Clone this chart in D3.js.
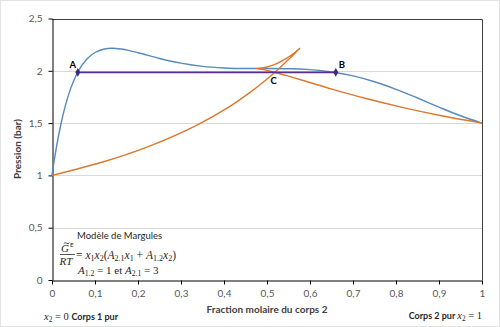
<!DOCTYPE html>
<html><head><meta charset="utf-8">
<script src="https://cdn.jsdelivr.net/npm/d3@7"></script>
<style>
html,body{margin:0;padding:0;background:#fff;}
svg{display:block;}
</style></head>
<body>
<script>
// ---- data ----
const x2Liquid = [0, 0.005, 0.01, 0.02, 0.03, 0.04, 0.05, 0.06, 0.08, 0.10, 0.12, 0.13, 0.14, 0.16, 0.18, 0.20, 0.25, 0.30, 0.35, 0.40, 0.45, 0.50, 0.55, 0.60, 0.65, 0.70, 0.75, 0.80, 0.85, 0.90, 0.95, 1];
const pressure = [1, 1.138, 1.263, 1.477, 1.650, 1.789, 1.900, 1.988, 2.108, 2.175, 2.206, 2.213, 2.215, 2.208, 2.193, 2.173, 2.118, 2.073, 2.042, 2.027, 2.022, 2.022, 2.020, 2.011, 1.989, 1.951, 1.895, 1.823, 1.740, 1.653, 1.570, 1.5];
const y2Vapour = [0, 0.126, 0.216, 0.335, 0.410, 0.459, 0.494, 0.519, 0.550, 0.567, 0.574, 0.576, 0.576, 0.575, 0.570, 0.564, 0.545, 0.525, 0.505, 0.490, 0.480, 0.476, 0.480, 0.493, 0.515, 0.548, 0.594, 0.653, 0.726, 0.812, 0.906, 1];
const threePhaseX = [0.06, 0.66];
const threePhaseP = [1.985, 1.985];
const pointLabels = ["A", "B", "C"];
const pointLabelX = [0.06, 0.66, 0.52];
const xTicks = [0, 0.1, 0.2, 0.3, 0.4, 0.5, 0.6, 0.7, 0.8, 0.9, 1];
const xTickLabels = ["0", "0,1", "0,2", "0,3", "0,4", "0,5", "0,6", "0,7", "0,8", "0,9", "1"];
const yTicks = [0, 0.5, 1, 1.5, 2, 2.5];
const yTickLabels = ["0", "0,5", "1", "1,5", "2", "2,5"];

const W = 500, H = 327;
const svg = d3.select("body").append("svg").attr("width", W).attr("height", H);
svg.append("rect").attr("x", 0.5).attr("y", 0.5).attr("width", W - 1).attr("height", H - 1)
  .attr("fill", "#fff").attr("stroke", "#e3e3e3");

const x = d3.scaleLinear().domain([0, 1]).range([52, 482]);
const y = d3.scaleLinear().domain([0, 2.5]).range([280, 18.5]);
const sansFont = "Lato, 'Open Sans', sans-serif";
const serif = "'Liberation Serif', 'DejaVu Serif', serif";

// gridlines
svg.append("g").selectAll("line").data(yTicks.filter(d => d > 0 && d < 2.5)).join("line")
  .attr("x1", x(0)).attr("x2", x(1)).attr("y1", d => Math.round(y(d)) + 0.5).attr("y2", d => Math.round(y(d)) + 0.5)
  .attr("stroke", "#d9d9d9").attr("stroke-width", 1);

// plot border (top/right)
svg.append("path")
  .attr("d", `M${x(0)},${Math.round(y(2.5)) + 0.5}H${x(1) + 0.5}V${y(0)}`)
  .attr("fill", "none").attr("stroke", "#404040").attr("stroke-width", 1);

// axes
const xAxis = svg.append("g").attr("transform", `translate(0,${Math.round(y(0)) + 0.5})`)
  .call(d3.axisBottom(x).tickValues(xTicks).tickSize(4).tickSizeOuter(0).tickPadding(5)
    .tickFormat((d, i) => xTickLabels[i]));
const yAxis = svg.append("g").attr("transform", `translate(${x(0) + 0.5},0)`)
  .call(d3.axisLeft(y).tickValues(yTicks).tickSize(4).tickSizeOuter(0).tickPadding(6)
    .tickFormat((d, i) => yTickLabels[i]));
[xAxis, yAxis].forEach(g => {
  g.select(".domain").attr("stroke", "#000");
  g.selectAll(".tick line").attr("stroke", "#000");
  g.selectAll(".tick text").attr("fill", "#595959").style("font-family", sansFont).style("font-size", "10px");
});

// curves
const blueLine = d3.line().x(d => x(d[0])).y(d => y(d[1])).curve(d3.curveMonotoneX);
svg.append("path").datum(x2Liquid.map((v, i) => [v, pressure[i]]))
  .attr("d", blueLine).attr("fill", "none").attr("stroke", "#5889bd").attr("stroke-width", 1.4);

const orangeLine = d3.line().x(d => x(d[0])).y(d => y(d[1])).curve(d3.curveCatmullRom.alpha(0.5));
svg.append("path").datum(y2Vapour.map((v, i) => [v, pressure[i]]))
  .attr("d", orangeLine).attr("fill", "none").attr("stroke", "#db782e").attr("stroke-width", 1.4);

// three-phase line
svg.append("path").datum(threePhaseX.map((v, i) => [v, threePhaseP[i]]))
  .attr("d", d3.line().x(d => x(d[0])).y(d => y(d[1])))
  .attr("fill", "none").attr("stroke", "#5a2d91").attr("stroke-width", 1.6);
svg.append("g").selectAll("path").data(threePhaseX).join("path")
  .attr("transform", (d, i) => `translate(${x(d)},${y(threePhaseP[i])})`)
  .attr("d", d3.symbol().type(d3.symbolDiamond).size(22))
  .attr("fill", "#3b2a7a");

// point labels
const labelOffsets = [[-5, -7], [6, -7], [-2, 9]];
svg.append("g").selectAll("text").data(pointLabels).join("text")
  .attr("x", (d, i) => x(pointLabelX[i]) + labelOffsets[i][0])
  .attr("y", (d, i) => y(threePhaseP[0]) + labelOffsets[i][1])
  .attr("text-anchor", "middle").attr("dominant-baseline", "middle")
  .style("font-family", sansFont).style("font-size", "9.5px").style("font-weight", "bold")
  .attr("fill", "#000").text(d => d);

// axis titles
svg.append("text").attr("x", 267).attr("y", 313).attr("text-anchor", "middle")
  .style("font-family", sansFont).style("font-size", "10px").style("font-weight", "bold")
  .attr("fill", "#404040").text("Fraction molaire du corps 2");
svg.append("text").attr("transform", "translate(21,149) rotate(-90)").attr("text-anchor", "middle")
  .style("font-family", sansFont).style("font-size", "10px").style("font-weight", "bold")
  .attr("fill", "#404040").text("Pression (bar)");

// rich text helper: segments [text, kind] kind: n (normal sans), i (italic serif), s (subscript), m (upright serif), b (bold sans)
function rich(xp, yp, segs, size, anchor, sansSize) {
  const t = svg.append("text").attr("x", xp).attr("y", yp).attr("fill", "#262626")
    .attr("text-anchor", anchor || "start").style("font-size", size + "px");
  let sub = false;
  segs.forEach(([txt, k]) => {
    const sp = t.append("tspan").text(txt);
    if (k === "i") sp.style("font-family", serif).style("font-style", "italic");
    else if (k === "m" || k === "s") sp.style("font-family", serif);
    else if (k === "b") sp.style("font-family", sansFont).style("font-weight", "bold").style("font-size", (sansSize || size) + "px");
    else sp.style("font-family", sansFont);
    if (k === "s") {
      sp.style("font-size", (size * 0.7) + "px");
      if (!sub) { sp.attr("dy", size * 0.22); sub = true; }
    } else if (sub) { sp.attr("dy", -size * 0.22); sub = false; }
  });
  return t;
}

// annotation
svg.append("text").attr("x", 77).attr("y", 239).style("font-family", sansFont).style("font-size", "9.5px")
  .attr("fill", "#262626").text("Modèle de Margules");
// fraction G~E / RT
rich(61, 251.5, [["G", "i"]], 11);
svg.append("path").attr("d", "M63.8,243.6 q1.3,-1.6 2.8,-0.4 q1.5,1.2 2.8,-0.4")
  .attr("fill", "none").attr("stroke", "#262626").attr("stroke-width", 0.8);
svg.append("text").attr("x", 70).attr("y", 246.5).style("font-family", sansFont).style("font-size", "6.5px")
  .attr("fill", "#262626").text("E");
svg.append("line").attr("x1", 60).attr("x2", 75).attr("y1", 254.5).attr("y2", 254.5)
  .attr("stroke", "#262626").attr("stroke-width", 0.8);
rich(59.5, 264.5, [["RT", "i"]], 11);
rich(76, 258.5, [["= ", "m"], ["x", "i"], ["1", "s"], ["x", "i"], ["2", "s"], ["(", "m"], ["A", "i"], ["2.1", "s"],
  ["x", "i"], ["1", "s"], [" + ", "m"], ["A", "i"], ["1.2", "s"], ["x", "i"], ["2", "s"], [")", "m"]], 11.5);
rich(78, 273.5, [["A", "i"], ["1.2", "s"], [" = 1 et ", "m"], ["A", "i"], ["2.1", "s"], [" = 3", "m"]], 11);

// bottom labels
rich(44, 319.5, [["x", "i"], ["2", "s"], [" = 0 ", "m"], ["Corps 1 pur", "b"]], 10.5, "start", 9);
rich(482, 319, [["Corps 2 pur  ", "b"], ["x", "i"], ["2", "s"], [" = 1", "m"]], 10.5, "end", 9);
</script>
</body></html>
